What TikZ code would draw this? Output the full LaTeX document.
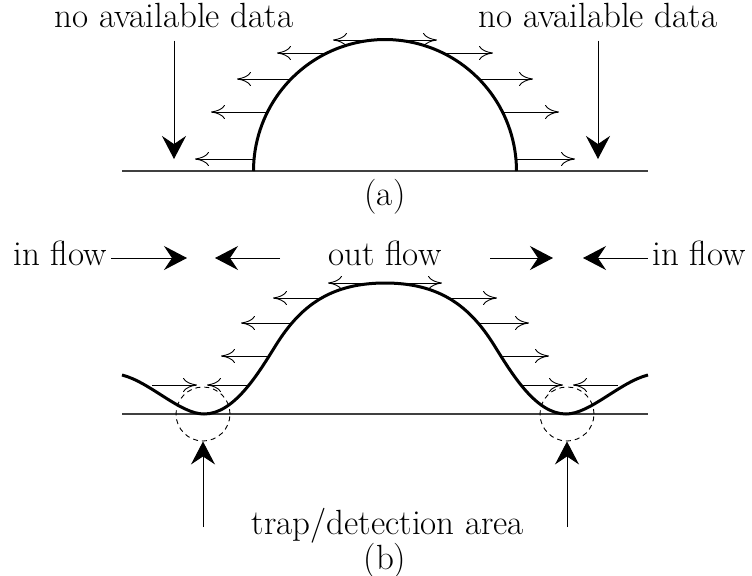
\documentclass[tikz,border=0pt]{standalone}
\usepackage{tikz}
\usetikzlibrary{arrows.meta}
\tikzset{
  lbl/.style={font=\fontsize{17.5}{21}\selectfont, inner sep=0pt},
  ground/.style={line width=0.6pt, black!75},
  profile/.style={line width=1.5pt, line join=round},
  vec/.style={line width=0.45pt, -{Computer Modern Rightarrow[length=7pt,width=7pt]}},
  bigarrow/.style={line width=0.5pt, -{Stealth[length=11.5pt,width=12pt,inset=4pt]}},
  trap/.style={circle, draw, dash pattern=on 2.5pt off 2pt, line width=0.45pt,
               minimum size=27pt, inner sep=0pt}
}

\begin{document}
\begin{tikzpicture}[x=0.5pt, y=-0.5pt]
  \useasboundingbox (0,0) rectangle (752,575);

  % (a) half circle
  \draw[ground] (122,171) -- (648,171);
  \draw[profile] plot[domain=0:180, samples=80] ({385+131.5*cos(\x)}, {171-131.5*sin(\x)});
  \foreach \y/\xa/\xb in {40/385/333, 53/327/277, 79/291/237, 112/268/211, 159/254/195} {
    \draw[vec] (\xa,\y) -- (\xb,\y);
    \draw[vec] ({770-\xa},\y) -- ({770-\xb},\y);
  }
  \node[lbl, anchor=base] (noDataL) at (174,27) {no available data};
  \node[lbl, anchor=base] (noDataR) at (598,27) {no available data};
  \coordinate (dropL) at (noDataL.south |- 0,159);
  \coordinate (dropR) at (noDataR.south |- 0,159);
  \draw[bigarrow, shorten <=6.5pt] (noDataL.south) -- (dropL);
  \draw[bigarrow, shorten <=6.5pt] (noDataR.south) -- (dropR);
  \node[lbl] (capA) at (385,197) {(a)};

  % (b) profile with traps
  \draw[ground] (122,414) -- (648,414);
  \draw[profile] (122,375) .. controls (150,382) and (180,414) .. (204,414)
    .. controls (234,414) and (258,374) .. (276,345)
    .. controls (300,306.6) and (330,283) .. (385,283)
    .. controls (440,283) and (470,306.6) .. (494,345)
    .. controls (512,374) and (536,414) .. (566,414)
    .. controls (590,414) and (620,382) .. (648,375);
  \foreach \y/\xa/\xb in {283/385/328, 298/318/273, 323/290/241, 356/269/221, 385/249/207} {
    \draw[vec] (\xa,\y) -- (\xb,\y);
    \draw[vec] ({770-\xa},\y) -- ({770-\xb},\y);
  }
  \draw[vec] (152,385) -- (197,385);
  \draw[vec] (618,385) -- (573,385);
  \node[trap] (trapL) at (203,414) {};
  \node[trap] (trapR) at (567,414) {};

  \node[lbl, anchor=base west] (inL) at (13,265) {in flow};
  \node[lbl, anchor=base] (outF) at (385,265) {out flow};
  \node[lbl, anchor=base east] (inR) at (746,265) {in flow};
  \coordinate (inTipL) at (187,258);
  \coordinate (inTipR) at (583,258);
  \coordinate (outTailL) at (280,258);
  \coordinate (outTipL) at (215,258);
  \coordinate (outTailR) at (490,258);
  \coordinate (outTipR) at (553,258);
  \draw[bigarrow, shorten <=2pt] (inL.east |- inTipL) -- (inTipL);
  \draw[bigarrow, shorten <=2pt] (inR.west |- inTipR) -- (inTipR);
  \draw[bigarrow] (outTailL) -- (outTipL);
  \draw[bigarrow] (outTailR) -- (outTipR);

  \coordinate (upL) at (203,527);
  \coordinate (upR) at (567,527);
  \draw[bigarrow] (upL) -- (trapL.south);
  \draw[bigarrow] (upR) -- (trapR.south);
  \node[lbl, anchor=base] (trapTxt) at (388,534) {trap/detection area};
  \node[lbl] (capB) at (385,561) {(b)};
\end{tikzpicture}
\end{document}
